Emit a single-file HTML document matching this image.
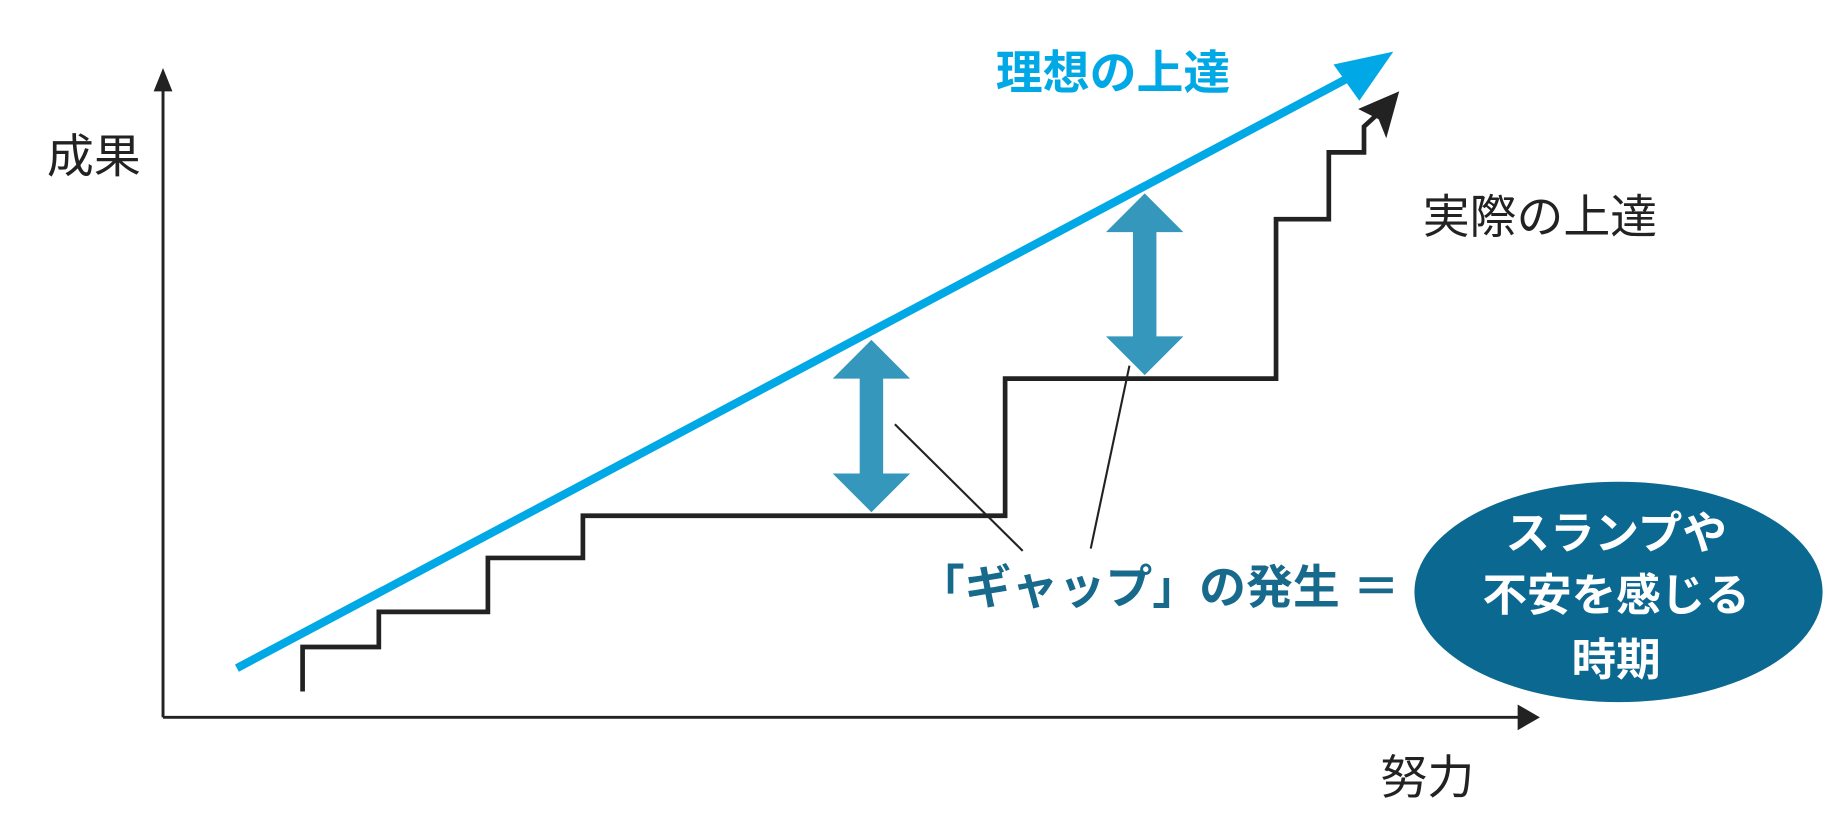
<!DOCTYPE html>
<html><head><meta charset="utf-8"><style>
html,body{margin:0;padding:0;background:#fff;}
svg{display:block;}
text{font-family:"Liberation Sans","Noto Sans CJK JP",sans-serif;}
</style></head><body>
<svg width="1839" height="824" viewBox="0 0 1568 703" preserveAspectRatio="none" xmlns="http://www.w3.org/2000/svg">
<rect width="1568" height="703" fill="#fff"/>
<!-- axes -->
<line x1="139" y1="612" x2="139" y2="75" stroke="#222" stroke-width="2.5"/>
<polygon points="139,58 131,78 147,78" fill="#222"/>
<line x1="139" y1="612" x2="1296" y2="612" stroke="#222" stroke-width="2.5"/>
<polygon points="1313,612 1294,601 1294,623" fill="#222"/>
<text x="80" y="147" font-size="40" text-anchor="middle" fill="#222">成果</text>
<text x="1217" y="677" font-size="40" text-anchor="middle" fill="#222">努力</text>
<!-- ideal line -->
<line x1="202" y1="570" x2="1160" y2="61" stroke="#00a9e6" stroke-width="7"/>
<polygon points="1188,44 1137,55 1159,86" fill="#00a9e6"/>
<text x="949" y="76" font-size="40" font-weight="bold" text-anchor="middle" fill="#00a9e6">理想の上達</text>
<!-- actual steps -->
<polyline points="258,590 258,552 323,552 323,522 416,522 416,476 497,476 497,440 857,440 857,323 1088,323 1088,187 1133,187 1133,130 1163,130 1163,108 1175,97" fill="none" stroke="#222" stroke-width="4"/>
<polygon points="1193,78 1158,93 1180,104" fill="#222"/>
<polygon points="1193,78 1170,88 1182,118" fill="#222"/>
<text x="1313" y="199" font-size="40" text-anchor="middle" fill="#222">実際の上達</text>
<!-- double arrows -->
<g fill="#3497bb">
<polygon points="743,290 776,323 753,323 753,404 776,404 743,437 710,404 733,404 733,323 710,323"/>
<polygon points="976,165 1009,198 986,198 986,287 1009,287 976,320 943,287 966,287 966,198 943,198"/>
</g>
<!-- leader lines -->
<line x1="763" y1="362" x2="872" y2="470" stroke="#222" stroke-width="1.8"/>
<line x1="963" y1="312" x2="930" y2="468" stroke="#222" stroke-width="1.8"/>
<text x="988" y="515" font-size="40" font-weight="bold" text-anchor="middle" fill="#176a8c">「ギャップ」の発生 ＝</text>
<!-- ellipse -->
<ellipse cx="1380" cy="505" rx="174" ry="94" fill="#0b6891"/>
<g font-size="38" font-weight="bold" fill="#fff" text-anchor="middle">
<text x="1378" y="468">スランプや</text>
<text x="1378" y="521">不安を感じる</text>
<text x="1378" y="576">時期</text>
</g>
</svg>
</body></html>
